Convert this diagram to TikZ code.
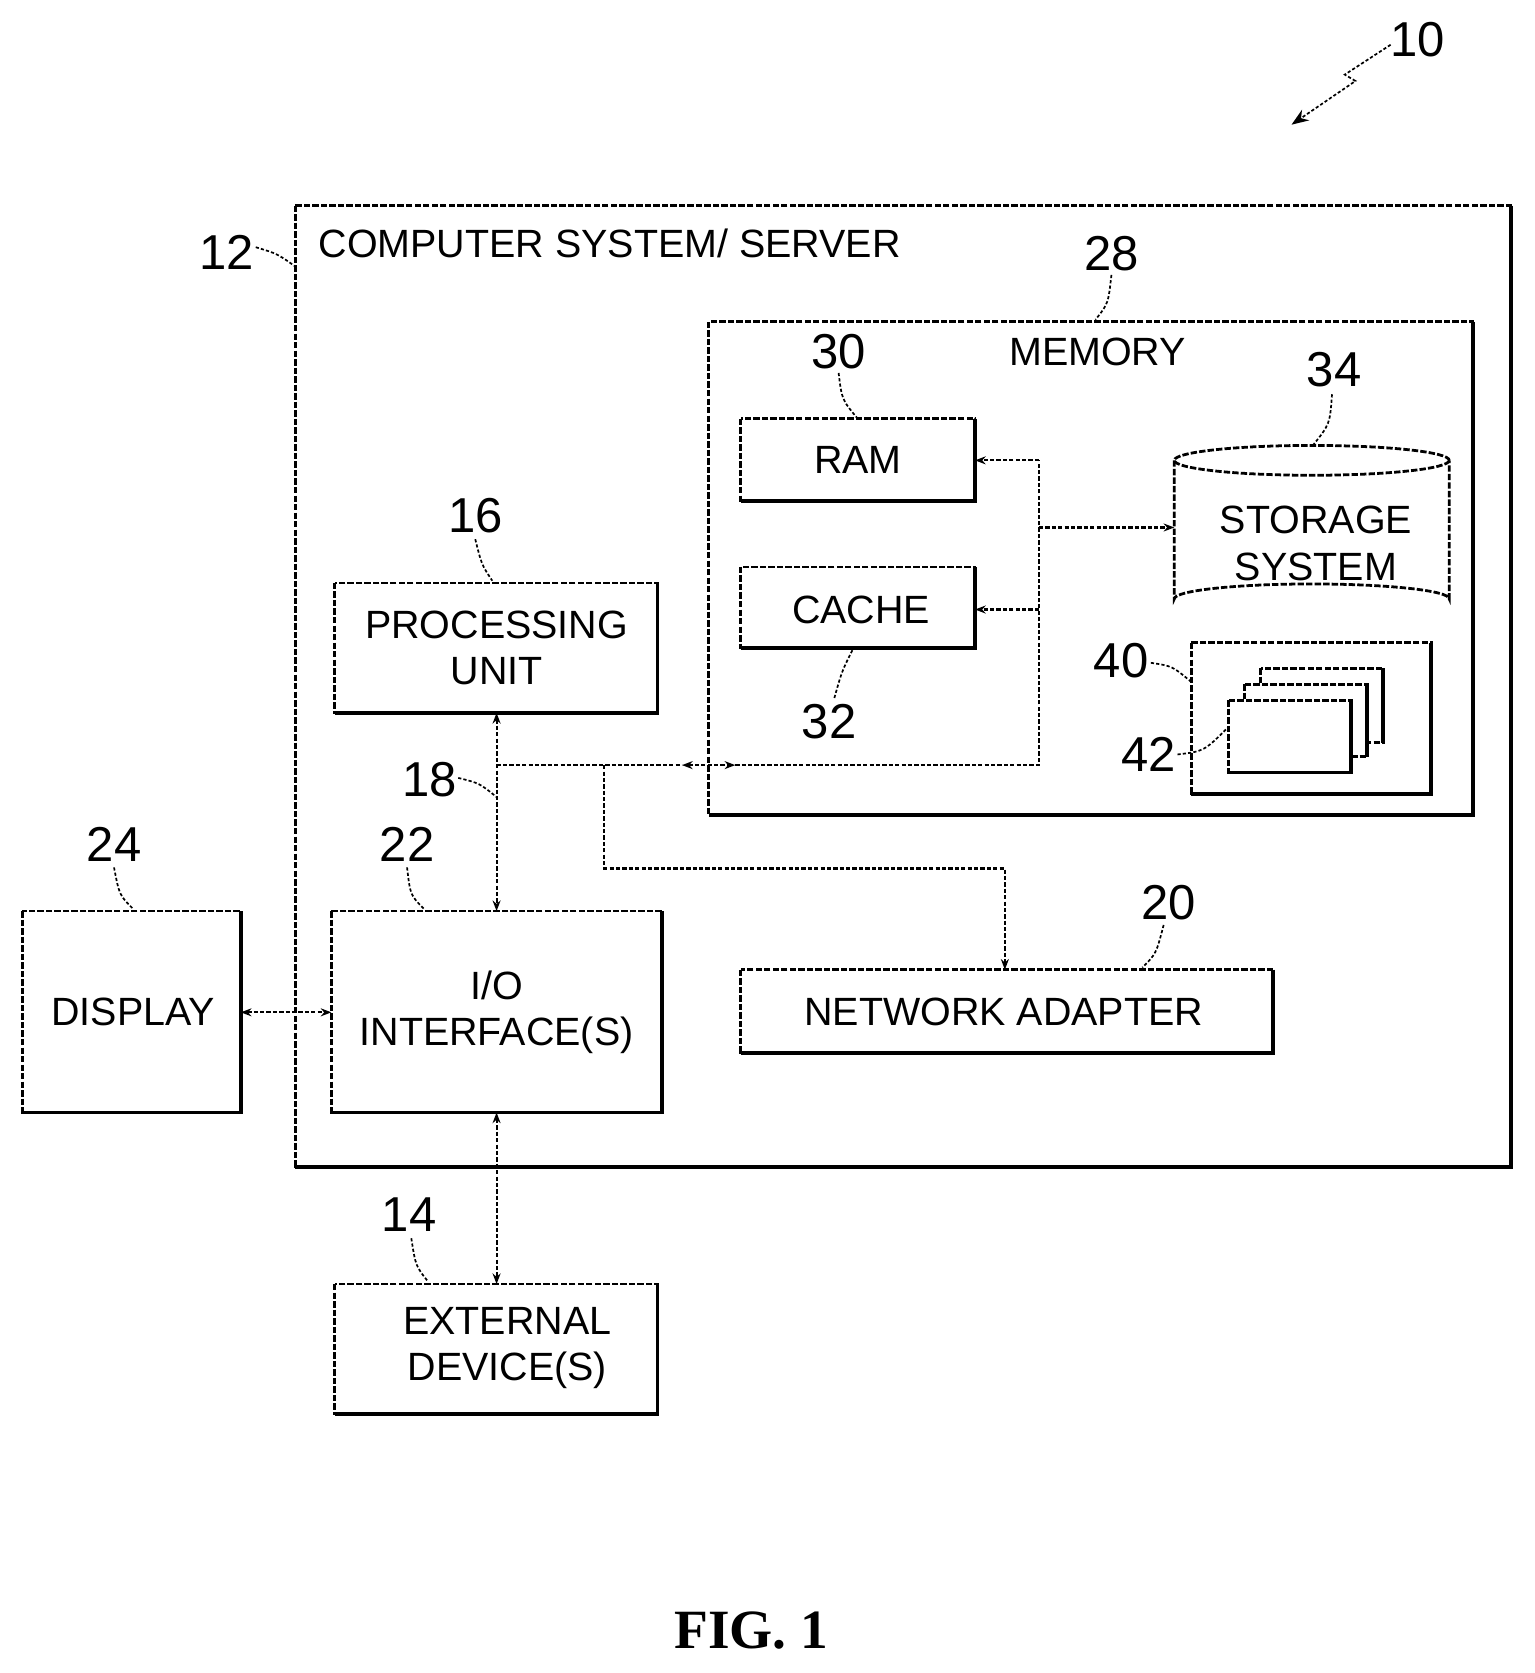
\documentclass[tikz,border=0pt]{standalone}
\usepackage{fontspec}
\setmainfont{Liberation Sans}
\newfontfamily\serifb{Liberation Serif}
\usetikzlibrary{arrows.meta}
\begin{document}
\begin{tikzpicture}[x=0.5pt,y=-0.5pt,
  box/.style={draw,line width=1.3pt,dash pattern=on 3pt off 1pt},
  lbl/.style={font=\fontsize{18.5}{22}\selectfont,align=center},
  num/.style={font=\fontsize{23}{26}\selectfont},
  conn/.style={line width=1pt,dash pattern=on 2pt off 1pt},
  lead/.style={line width=0.8pt,dash pattern=on 1.5pt off 1pt},
  arr/.style={conn,{Stealth[length=5pt]}-{Stealth[length=5pt]}},
  ar/.style={conn,-{Stealth[length=5pt]}}]
\useasboundingbox (0,0) rectangle (1440,1570);
% outer
\draw[box] (277,193) rectangle (1418,1095);
\draw[line width=2.2pt] (1418,193) -- (1418,1095) -- (277,1095);
\node[lbl,anchor=west] (title) at (292,228) {COMPUTER SYSTEM/ SERVER};
\node[num] (n12) at (213,237) {12};
\draw[lead] (240,232) .. controls (260,238) .. (277,250);
% memory
\draw[box] (665,302) rectangle (1382,765);
\draw[line width=1.8pt] (1382,302) -- (1382,765) -- (665,765);
\node[lbl] (memt) at (1030,330) {MEMORY};
\node[num] (n28) at (1043,238) {28};
\draw[lead] (1043,258) .. controls (1040,285) .. (1028,300);
% RAM
\draw[box] (695,393) rectangle (915,470);
\draw[line width=1.8pt] (915,393) -- (915,470) -- (695,470);
\coordinate (ramE) at (915,432);
\node[lbl] (ramt) at (805,432) {RAM};
\node[num] (n30) at (787,330) {30};
\draw[lead] (787,350) .. controls (790,375) .. (805,393);
% CACHE
\draw[box] (695,532) rectangle (915,608);
\draw[line width=1.8pt] (915,532) -- (915,608) -- (695,608);
\coordinate (cacheE) at (915,572);
\node[lbl] (cachet) at (808,572) {CACHE};
\node[num] (n32) at (778,677) {32};
\draw[lead] (783,655) .. controls (790,630) .. (800,610);
% storage cylinder
\draw[box] (1231,432) ellipse [x radius=129, y radius=14];
\draw[box] (1102,432) -- (1102,562) arc[start angle=180,end angle=360,x radius=129,y radius=14] -- (1360,432);
\coordinate (storW) at (1102,495);
\node[lbl] (stort) at (1235,510) {STORAGE\\SYSTEM};
\node[num] (n34) at (1252,347) {34};
\draw[lead] (1250,370) .. controls (1248,398) .. (1232,418);
% box 40
\draw[box] (1118,603) rectangle (1343,745);
\draw[line width=1.8pt] (1343,603) -- (1343,745) -- (1118,745);
\draw[box,fill=white] (1183,627) rectangle (1298,697);
\draw[line width=1.6pt] (1298,627) -- (1298,697);
\draw[box,fill=white] (1168,642) rectangle (1283,710);
\draw[line width=1.6pt] (1283,642) -- (1283,710);
\draw[box,fill=white] (1153,657) rectangle (1268,725);
\draw[line width=1.6pt] (1268,657) -- (1268,725) -- (1153,725);
\node[num] (n40) at (1052,620) {40};
\draw[lead] (1080,622) .. controls (1100,625) .. (1118,640);
\node[num] (n42) at (1078,708) {42};
\draw[lead] (1105,708) .. controls (1130,705) .. (1153,682);
% processing unit
\draw[box] (314,547) rectangle (617,669);
\draw[line width=1.8pt] (617,547) -- (617,669) -- (314,669);
\node[lbl] (pu) at (466,608) {PROCESSING\\UNIT};
\coordinate (puS) at (466,669);
\node[num] (n16) at (446,484) {16};
\draw[lead] (446,506) .. controls (452,530) .. (462,545);
% I/O
\draw[box] (311,855) rectangle (621,1044);
\draw[line width=1.8pt] (621,855) -- (621,1044) -- (311,1044);
\node[lbl] (io) at (466,950) {I/O\\INTERFACE(S)};
\coordinate (ioN) at (466,855); \coordinate (ioS) at (466,1044); \coordinate (ioW) at (311,950);
\node[num] (n22) at (382,792) {22};
\draw[lead] (382,814) .. controls (385,840) .. (398,853);
% display
\draw[box] (21,855) rectangle (226,1044);
\draw[line width=1.8pt] (226,855) -- (226,1044) -- (21,1044);
\node[lbl] (disp) at (125,950) {DISPLAY};
\coordinate (dispE) at (226,950);
\node[num] (n24) at (107,792) {24};
\draw[lead] (107,814) .. controls (112,840) .. (125,853);
% network adapter
\draw[box] (695,910) rectangle (1195,988);
\draw[line width=1.8pt] (1195,910) -- (1195,988) -- (695,988);
\node[lbl] (na) at (942,950) {NETWORK ADAPTER};
\coordinate (naN) at (943,910);
\node[num] (n20) at (1097,847) {20};
\draw[lead] (1092,868) .. controls (1085,895) .. (1072,908);
% external
\draw[box] (314,1205) rectangle (617,1327);
\draw[line width=1.8pt] (617,1205) -- (617,1327) -- (314,1327);
\node[lbl] (ext) at (476,1265) {EXTERNAL\\DEVICE(S)};
\coordinate (extN) at (466,1205);
\node[num] (n14) at (384,1140) {14};
\draw[lead] (386,1162) .. controls (390,1188) .. (402,1203);
% bus
\coordinate (b1) at (466,718); \coordinate (b2) at (567,718);
\coordinate (memW) at (690,718); \coordinate (b3) at (975,718);
\coordinate (b4) at (975,432); \coordinate (b5) at (975,572); \coordinate (b6) at (975,495);
\draw[arr] (puS) -- (ioN);
\draw[conn] (b1) -- (640,718);
\draw[arr] (640,718) -- (memW);
\draw[conn] (memW) -- (b3) -- (b4);
\draw[ar] (b4) -- (ramE);
\draw[ar] (b5) -- (cacheE);
\draw[ar] (b6) -- (storW);
\draw[ar] (b2) -- (567,815) -- (943,815) -- (naN);
\draw[arr] (dispE) -- (ioW);
\draw[arr] (ioS) -- (extN);
\node[num] (n18) at (403,732) {18};
\draw[lead] (430,730) .. controls (450,735) .. (466,748);
% 10
\node[num] (n10) at (1330,37) {10};
\draw[lead,-{Stealth[length=8pt]}] (1305,42) -- (1262,70) -- (1272,76) -- (1212,117);
% fig
\node[font=\serifb\bfseries\fontsize{26}{28}\selectfont] (fig) at (705,1530) {FIG. 1};
\end{tikzpicture}
\end{document}
